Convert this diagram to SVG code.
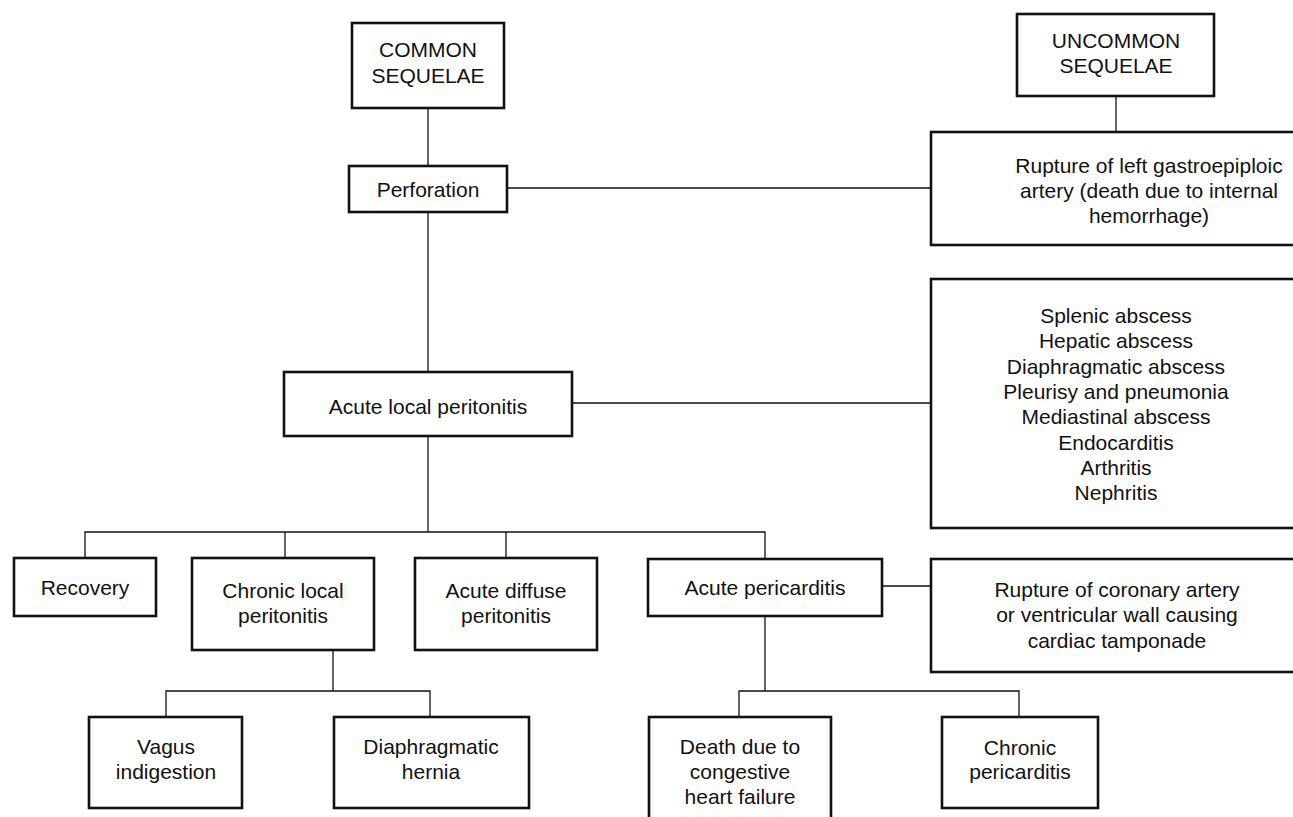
<svg xmlns="http://www.w3.org/2000/svg" width="1293" height="817" viewBox="0 0 1293 817">
<style>
.box{fill:#fff;stroke:#111;stroke-width:2.6}
.t{font-family:"Liberation Sans",Arial,Helvetica,sans-serif;font-size:21px;fill:#111;text-anchor:middle}
.c{fill:none;stroke:#111;stroke-width:1.3}
</style>
<rect width="1293" height="817" fill="#fff"/>
<g id="connectors">
<path class="c" d="M428 108V166"/>
<path class="c" d="M428 212V372"/>
<path class="c" d="M507 188H931"/>
<path class="c" d="M1116 96V132"/>
<path class="c" d="M572 403H931"/>
<path class="c" d="M428 436V532"/>
<path class="c" d="M85 558V532H765V559"/>
<path class="c" d="M285 532V558"/>
<path class="c" d="M506 532V558"/>
<path class="c" d="M333 650V691"/>
<path class="c" d="M166 717V691H430V717"/>
<path class="c" d="M882 586H931"/>
<path class="c" d="M765 616V691"/>
<path class="c" d="M739 717V691H1019V717"/>
</g>
<g id="common">
<rect class="box" x="352" y="23" width="152" height="85"/>
<text class="t" x="428" y="57">COMMON</text>
<text class="t" x="428" y="83">SEQUELAE</text>
</g>
<g id="perforation">
<rect class="box" x="349" y="166" width="158" height="46"/>
<text class="t" x="428" y="197">Perforation</text>
</g>
<g id="uncommon">
<rect class="box" x="1017" y="14" width="197" height="82"/>
<text class="t" x="1116" y="48">UNCOMMON</text>
<text class="t" x="1116" y="73">SEQUELAE</text>
</g>
<g id="rupture-gastro">
<rect class="box" x="931" y="132" width="436" height="113"/>
<text class="t" x="1149" y="173">Rupture of left gastroepiploic</text>
<text class="t" x="1149" y="198">artery (death due to internal</text>
<text class="t" x="1149" y="223">hemorrhage)</text>
</g>
<g id="acute-local">
<rect class="box" x="284" y="372" width="288" height="64"/>
<text class="t" x="428" y="414">Acute local peritonitis</text>
</g>
<g id="abscess-list">
<rect class="box" x="931" y="279" width="370" height="249"/>
<text class="t" x="1116" y="323">Splenic abscess<tspan x="1116" dy="25.3">Hepatic abscess</tspan><tspan x="1116" dy="25.3">Diaphragmatic abscess</tspan><tspan x="1116" dy="25.3">Pleurisy and pneumonia</tspan><tspan x="1116" dy="25.3">Mediastinal abscess</tspan><tspan x="1116" dy="25.3">Endocarditis</tspan><tspan x="1116" dy="25.3">Arthritis</tspan><tspan x="1116" dy="25.3">Nephritis</tspan></text>
</g>
<g id="recovery">
<rect class="box" x="14" y="558" width="142" height="58"/>
<text class="t" x="85" y="595">Recovery</text>
</g>
<g id="chronic-local">
<rect class="box" x="192" y="558" width="182" height="92"/>
<text class="t" x="283" y="598">Chronic local</text>
<text class="t" x="283" y="623">peritonitis</text>
</g>
<g id="acute-diffuse">
<rect class="box" x="415" y="558" width="182" height="92"/>
<text class="t" x="506" y="598">Acute diffuse</text>
<text class="t" x="506" y="623">peritonitis</text>
</g>
<g id="acute-pericarditis">
<rect class="box" x="648" y="559" width="234" height="57"/>
<text class="t" x="765" y="595">Acute pericarditis</text>
</g>
<g id="rupture-coronary">
<rect class="box" x="931" y="559" width="372" height="113"/>
<text class="t" x="1117" y="597">Rupture of coronary artery</text>
<text class="t" x="1117" y="622">or ventricular wall causing</text>
<text class="t" x="1117" y="648">cardiac tamponade</text>
</g>
<g id="vagus">
<rect class="box" x="89" y="717" width="153" height="91"/>
<text class="t" x="166" y="754">Vagus</text>
<text class="t" x="166" y="779">indigestion</text>
</g>
<g id="diaphragmatic-hernia">
<rect class="box" x="334" y="717" width="195" height="91"/>
<text class="t" x="431" y="754">Diaphragmatic</text>
<text class="t" x="431" y="779">hernia</text>
</g>
<g id="death-chf">
<rect class="box" x="649" y="717" width="182" height="110"/>
<text class="t" x="740" y="754">Death due to</text>
<text class="t" x="740" y="779">congestive</text>
<text class="t" x="740" y="804">heart failure</text>
</g>
<g id="chronic-pericarditis">
<rect class="box" x="942" y="717" width="156" height="91"/>
<text class="t" x="1020" y="755">Chronic</text>
<text class="t" x="1020" y="779">pericarditis</text>
</g>
</svg>
